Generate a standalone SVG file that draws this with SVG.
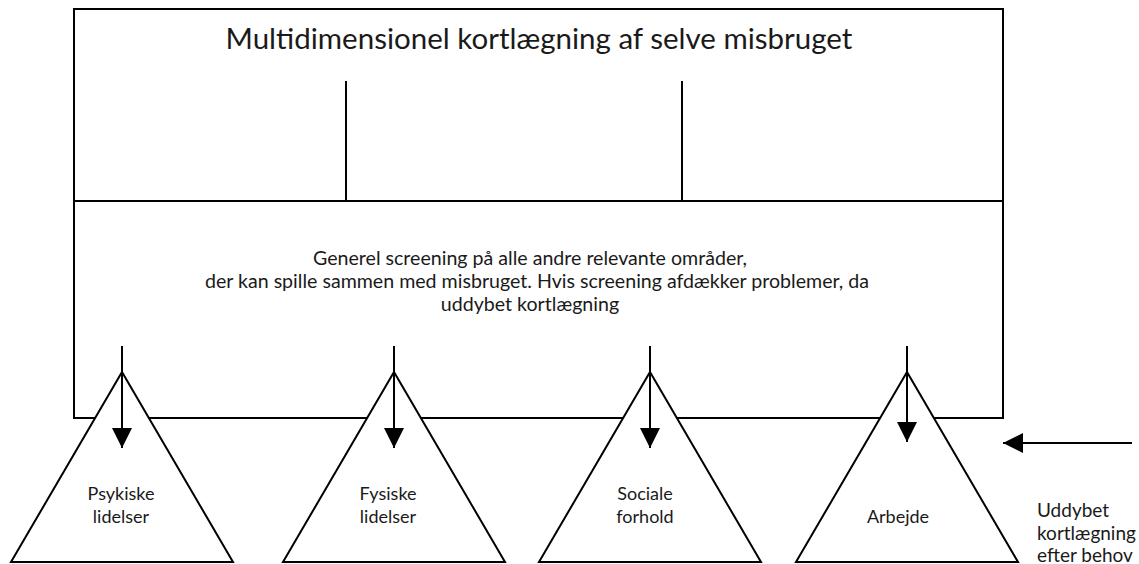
<svg xmlns="http://www.w3.org/2000/svg" width="1139" height="564" viewBox="0 0 1139 564">
<style>
.ln{fill:none;stroke:#000;stroke-width:2}
.tri{fill:#fff;stroke:#000;stroke-width:2}
.t{font-family:Lato,"Liberation Sans",sans-serif;fill:#1a1a1a;text-anchor:middle}
.m{font-size:19.6px}
.s{font-size:18px}
.n{font-size:19px;text-anchor:start}
</style>
<defs>
<marker id="ah" viewBox="0 0 20 20" refX="20" refY="10" markerWidth="20" markerHeight="20" markerUnits="userSpaceOnUse" orient="auto">
<path d="M0,0 L20,10 L0,20 Z" fill="#000"/>
</marker>
</defs>
<g id="mainbox">
<rect class="ln" x="74" y="9" width="929" height="409"/>
<line class="ln" x1="74" y1="201" x2="1003" y2="201"/>
<line class="ln" x1="346" y1="81" x2="346" y2="201"/>
<line class="ln" x1="682" y1="81" x2="682" y2="201"/>
<text class="t" x="539" y="49" font-size="29.5">Multidimensionel kortlægning af selve misbruget</text>
<text class="t m" x="530" y="265">Generel screening på alle andre relevante områder,</text>
<text class="t m" x="537" y="288">der kan spille sammen med misbruget. Hvis screening afdækker problemer, da</text>
<text class="t m" x="530" y="311">uddybet kortlægning</text>
</g>
<g id="tri1">
<polygon class="tri" points="122,372 233,562 11,562"/>
<text class="t s" x="121" y="500">Psykiske</text>
<text class="t s" x="121" y="523">lidelser</text>
</g>
<g id="tri2">
<polygon class="tri" points="394,372 505,562 283,562"/>
<text class="t s" x="388" y="500">Fysiske</text>
<text class="t s" x="388" y="523">lidelser</text>
</g>
<g id="tri3">
<polygon class="tri" points="650,372 761,562 539,562"/>
<text class="t s" x="645" y="500">Sociale</text>
<text class="t s" x="645" y="523">forhold</text>
</g>
<g id="tri4">
<polygon class="tri" points="907,372 1018,562 796,562"/>
<text class="t s" x="898" y="523">Arbejde</text>
</g>
<g id="note">
<text class="t n" x="1037" y="517">Uddybet</text>
<text class="t n" x="1037" y="540">kortlægning</text>
<text class="t n" x="1037" y="562">efter behov</text>
</g>
<g id="connectors">
<line class="ln" x1="122" y1="346" x2="122" y2="448" marker-end="url(#ah)"/>
<line class="ln" x1="394" y1="346" x2="394" y2="448" marker-end="url(#ah)"/>
<line class="ln" x1="650" y1="346" x2="650" y2="448" marker-end="url(#ah)"/>
<line class="ln" x1="907" y1="346" x2="907" y2="442" marker-end="url(#ah)"/>
<line class="ln" x1="1132" y1="443" x2="1003" y2="443" marker-end="url(#ah)"/>
</g>
</svg>
